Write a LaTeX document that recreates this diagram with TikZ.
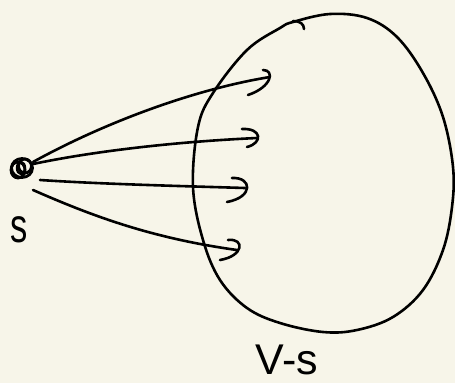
\documentclass[tikz,border=0pt]{standalone}
\usepackage{fontspec}
\setmainfont{Liberation Sans}
\usetikzlibrary{calc}
\definecolor{paper}{HTML}{F7F5E9}
\tikzset{
  ink/.style={draw=black, line width=2.6pt, line cap=round, line join=round},
  hand/.style={font=\fontsize{46}{50}\selectfont, inner sep=0pt, text=black},
}
\begin{document}
\begin{tikzpicture}[x=1pt,y=-1pt]
\fill[paper] (0,0) rectangle (455,383);
\useasboundingbox (0,0) rectangle (455,383);
% source dot
\node[circle, minimum size=22pt, inner sep=0pt] (s) at (22,168) {};
\draw[ink, line width=2.8pt] (18,170) ellipse [x radius=7, y radius=8];
\draw[ink, line width=2.8pt] (25,166) ellipse [x radius=6.5, y radius=7];
\draw[ink, line width=2.8pt] (22,168) ellipse [x radius=10.5, y radius=9.5];
\draw[ink, line width=2.4pt] (21,168) ellipse [x radius=4, y radius=6];
% labels
\node[hand, xscale=0.75, yscale=1.05] (slabel) at (19,230) {s};
\node[hand, font=\fontsize{43}{46}\selectfont, anchor=base] (vs) at (287,374) {V-s};
% the set V-s
\draw[ink] plot[smooth cycle, tension=0.6] coordinates {
 (293,22) (330,14) (367,18) (397,37) (423,73) (443,117) (453,167)
 (452,207) (443,250) (423,290) (393,317) (357,330) (323,332)
 (280,323) (247,308) (220,280) (203,240) (193,187) (198,127)
 (213,93) (247,50) (280,28)};
\draw[ink] (293,21) .. controls (300,21) and (304,24) .. (304,29);
% arrow ends
\coordinate (e1) at (270,77);
\coordinate (e2) at (257,138);
\coordinate (e3) at (245,188);
\coordinate (e4) at (237,250);
% connectors
\draw[ink] ($(s.center)+(11,-6)$) .. controls (100,125) and (190,90) .. (e1);
\draw[ink] ($(s.center)+(11,-4)$) .. controls (90,152) and (170,142) .. (e2);
\draw[ink] ($(s.center)+(18,12)$) .. controls (100,184) and (180,186) .. (e3);
\draw[ink] ($(s.center)+(11,22)$) .. controls (90,215) and (150,238) .. (e4);
% hooked heads
\draw[ink] ($(e1)+(-7,-7)$) .. controls ($(e1)+(5,-7)$) and ($(e1)+(2,10)$) .. ($(e1)+(-22,18)$);
\draw[ink] ($(e2)+(-15,-9)$) .. controls ($(e2)+(5,-10)$) and ($(e2)+(6,5)$) .. ($(e2)+(-10,9)$);
\draw[ink] ($(e3)+(-13,-10)$) .. controls ($(e3)+(7,-11)$) and ($(e3)+(9,9)$) .. ($(e3)+(-18,14)$);
\draw[ink] ($(e4)+(-9,-10)$) .. controls ($(e4)+(8,-12)$) and ($(e4)+(7,6)$) .. ($(e4)+(-17,10)$);
\end{tikzpicture}
\end{document}
